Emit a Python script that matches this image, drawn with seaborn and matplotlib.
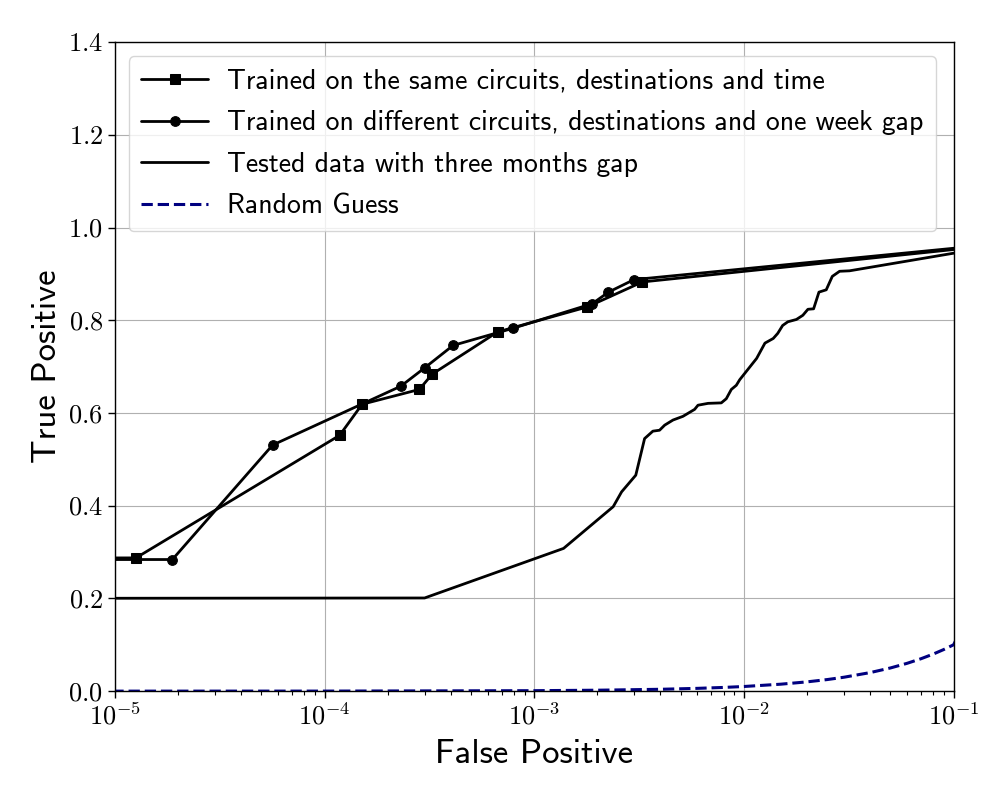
import numpy as np
import pandas as pd
import seaborn as sns
import matplotlib.pyplot as plt
from matplotlib.ticker import FuncFormatter, FixedLocator

# data
fp_same = [1e-6, 1.26e-5, 1.18e-4, 1.51e-4, 2.83e-4, 3.26e-4, 6.68e-4, 1.79e-3, 3.28e-3, 1.0]
tp_same = [0.287, 0.2875, 0.552, 0.619, 0.651, 0.684, 0.775, 0.829, 0.883, 1.0]

fp_diff = [1e-6, 1.88e-5, 5.65e-5, 2.31e-4, 3.01e-4, 4.10e-4, 7.92e-4, 1.89e-3, 2.26e-3, 2.99e-3, 1.0]
tp_diff = [0.284, 0.284, 0.531, 0.658, 0.698, 0.746, 0.783, 0.836, 0.861, 0.888, 1.0]

fp_three = [1e-6, 3.0e-4, 1.38e-3, 2.38e-3, 2.61e-3, 3.05e-3, 3.36e-3, 3.68e-3, 3.96e-3,
            4.19e-3, 4.59e-3, 5.12e-3, 5.82e-3, 6.04e-3, 6.75e-3, 7.80e-3, 8.24e-3, 8.71e-3,
            9.20e-3, 9.55e-3, 1.15e-2, 1.26e-2, 1.38e-2, 1.45e-2, 1.53e-2, 1.62e-2, 1.78e-2,
            1.91e-2, 2.02e-2, 2.15e-2, 2.28e-2, 2.47e-2, 2.64e-2, 2.86e-2, 3.19e-2, 0.1, 1.0]
tp_three = [0.2, 0.201, 0.308, 0.398, 0.430, 0.466, 0.545, 0.561, 0.563,
            0.574, 0.585, 0.593, 0.608, 0.617, 0.621, 0.622, 0.631, 0.651,
            0.660, 0.672, 0.718, 0.751, 0.761, 0.772, 0.789, 0.797, 0.802,
            0.811, 0.824, 0.825, 0.861, 0.866, 0.895, 0.906, 0.907, 0.945, 1.0]

fp_rand = [1e-6, 1e-5, 1e-4, 1e-3, 2e-3, 4e-3, 6e-3, 8e-3, 1e-2, 1.5e-2, 2e-2, 2.5e-2,
           3e-2, 4e-2, 5e-2, 6e-2, 7e-2, 8e-2, 9e-2, 0.1, 1.0]
tp_rand = [1e-6, 1e-5, 1e-4, 1e-3, 2e-3, 4e-3, 6e-3, 8e-3, 1e-2, 1.5e-2, 2e-2, 2.5e-2,
           3e-2, 4e-2, 5e-2, 6e-2, 7e-2, 8e-2, 9e-2, 0.1, 1.0]

labels = ['Trained on the same circuits, destinations and time',
          'Trained on different circuits, destinations and one week gap',
          'Tested data with three months gap',
          'Random Guess']

sns.set_style('whitegrid', {'axes.edgecolor': 'black', 'grid.color': '#b0b0b0',
                            'xtick.bottom': True, 'ytick.left': True,
                            'text.color': 'black', 'axes.labelcolor': 'black',
                            'xtick.color': 'black', 'ytick.color': 'black'})
plt.rcParams['mathtext.fontset'] = 'cm'
plt.rcParams['font.family'] = ['cmss10', 'DejaVu Sans']

fig = plt.figure(figsize=(10.08, 7.99), dpi=100)
ax = fig.add_axes([0.114, 0.135, 0.832, 0.812])

sns.lineplot(x=fp_same, y=tp_same, sort=False, estimator=None, color='black', lw=2,
             marker='s', markersize=7, markeredgecolor='black', label=labels[0], ax=ax)
sns.lineplot(x=fp_diff, y=tp_diff, sort=False, estimator=None, color='black', lw=2,
             marker='o', markersize=7, markeredgecolor='black', label=labels[1], ax=ax)
sns.lineplot(x=fp_three, y=tp_three, sort=False, estimator=None, color='black', lw=2,
             label=labels[2], ax=ax)
sns.lineplot(x=fp_rand, y=tp_rand, sort=False, estimator=None, color='navy', lw=2.2,
             linestyle='--', label=labels[3], ax=ax)

ax.set_xscale('log')
ax.set_xlim(1e-5, 1e-1)
ax.set_ylim(0, 1.4)
ax.yaxis.set_major_locator(FixedLocator([0, 0.2, 0.4, 0.6, 0.8, 1.0, 1.2, 1.4]))
ax.xaxis.set_major_formatter(FuncFormatter(lambda v, p: r'$10^{%d}$' % round(np.log10(v))))
ax.yaxis.set_major_formatter(FuncFormatter(lambda v, p: r'$%.1f$' % v))
ax.tick_params(axis='both', which='major', labelsize=19, length=5, width=1, color='black',
               labelcolor='black')
ax.tick_params(axis='x', which='minor', bottom=True, length=3, width=0.8, color='black')
ax.grid(True, which='major')
ax.grid(False, which='minor')
for s in ax.spines.values():
    s.set_linewidth(1)
    s.set_color('black')

ax.set_xlabel('False Positive', fontsize=25, color='black', labelpad=7)
ax.set_ylabel('True Positive', fontsize=25, color='black', labelpad=4)

leg = ax.legend(loc='upper left', fontsize=20, frameon=True, framealpha=0.8,
                edgecolor='#cccccc', handlelength=2.4, handletextpad=0.7,
                borderpad=0.45, labelspacing=0.6)
for t in leg.get_texts():
    t.set_color('black')

fig.savefig('out.png', dpi=100)
